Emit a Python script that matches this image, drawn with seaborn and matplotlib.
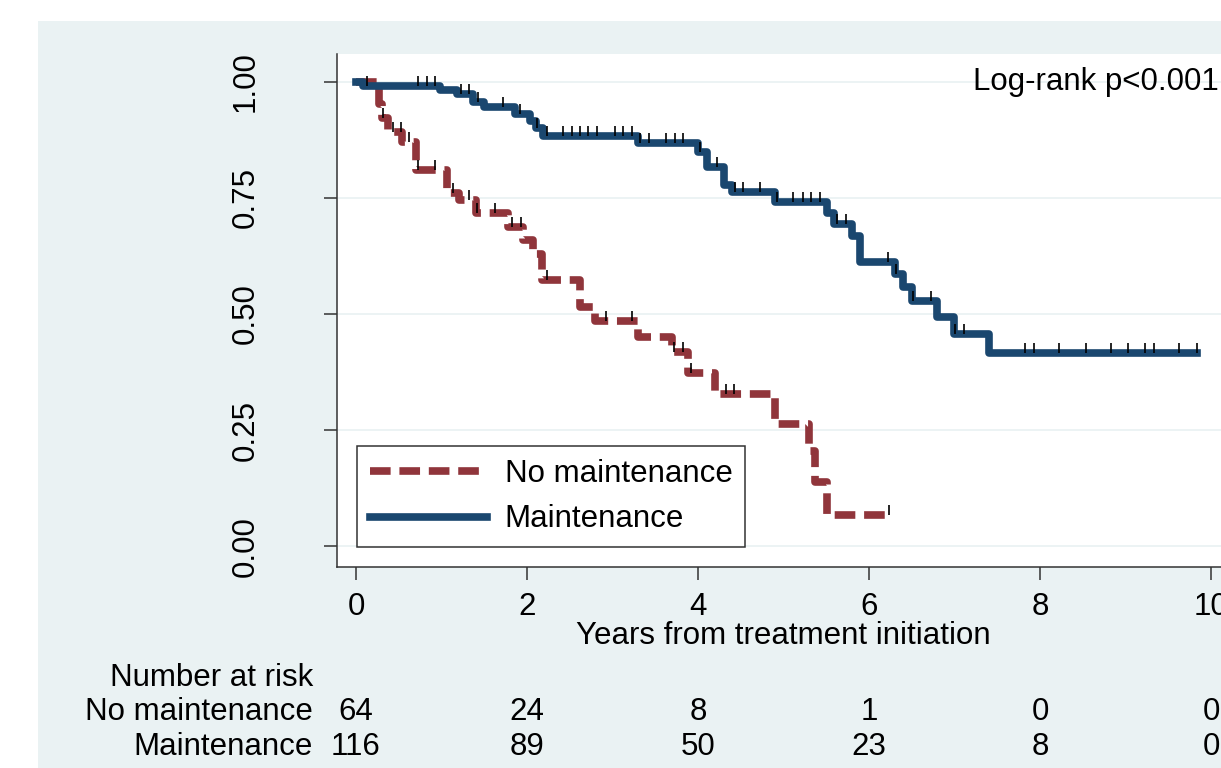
import numpy as np
import pandas as pd
import matplotlib
matplotlib.use("Agg")
import matplotlib.pyplot as plt
import matplotlib.transforms as mtransforms
from matplotlib.lines import Line2D
from matplotlib.patches import Rectangle
import seaborn as sns

# Kaplan-Meier steps (time in years, survival after the step)
no_maint_times = [0, 0.27, 0.30, 0.37, 0.54, 0.70, 1.06, 1.20, 1.40, 1.78, 1.95, 2.07, 2.18,
                  2.62, 2.80, 3.30, 3.70, 3.88, 4.20, 4.90, 5.30, 5.37, 5.51, 6.22]
no_maint_surv = [1.0, 0.953, 0.922, 0.891, 0.870, 0.810, 0.760, 0.745, 0.717, 0.688, 0.660, 0.630,
                 0.573, 0.516, 0.485, 0.450, 0.418, 0.372, 0.328, 0.263, 0.205, 0.138, 0.067, 0.067]
no_maint_censored = [0.32, 0.43, 0.53, 0.62, 0.72, 0.92, 1.13, 1.32, 1.42, 1.63, 1.83, 1.93, 2.23,
                     2.92, 3.23, 3.72, 3.83, 3.92, 4.33, 4.42, 6.23]

maint_times = [0, 0.08, 0.98, 1.18, 1.37, 1.50, 1.86, 2.03, 2.10, 2.19, 3.30, 4.00, 4.10, 4.30,
               4.40, 4.90, 5.51, 5.59, 5.80, 5.90, 6.30, 6.40, 6.50, 6.80, 6.99, 7.40, 9.84]
maint_surv = [1.0, 0.991, 0.982, 0.973, 0.957, 0.946, 0.931, 0.916, 0.900, 0.884, 0.868, 0.849,
              0.817, 0.777, 0.763, 0.741, 0.718, 0.694, 0.668, 0.612, 0.586, 0.558, 0.528, 0.493,
              0.457, 0.416, 0.416]
maint_censored = [0.13, 0.72, 0.83, 0.92, 1.23, 1.32, 1.43, 1.72, 1.92, 2.12, 2.23, 2.42, 2.53,
                  2.62, 2.71, 2.82, 3.03, 3.12, 3.23, 3.32, 3.43, 3.63, 3.73, 3.83, 4.02, 4.22,
                  4.43, 4.53, 4.73, 4.92, 5.11, 5.23, 5.32, 5.43, 5.63, 5.73, 6.22, 6.32, 6.52,
                  6.72, 7.00, 7.11, 7.82, 7.93, 8.22, 8.54, 8.83, 9.03, 9.23, 9.33, 9.63, 9.84]

groups = ["No maintenance", "Maintenance"]
risk_times = [0, 2, 4, 6, 8, 10]
risk_no_maint = [64, 24, 8, 1, 0, 0]
risk_maint = [116, 89, 50, 23, 8, 0]

colors = {"No maintenance": "#90353b", "Maintenance": "#1a476f"}
bg = "#eaf2f3"

plt.rcParams["font.family"] = ["Liberation Sans", "DejaVu Sans"]
FS = 22.5

df = pd.concat([
    pd.DataFrame({"time": no_maint_times, "surv": no_maint_surv, "group": groups[0]}),
    pd.DataFrame({"time": maint_times, "surv": maint_surv, "group": groups[1]}),
], ignore_index=True)

W, H = 1221, 768
fig = plt.figure(figsize=(W / 100, H / 100), dpi=100)
fig.patch.set_facecolor("white")
fig.patches.append(Rectangle((38 / W, 0), 1, (H - 21) / H, transform=fig.transFigure,
                             facecolor=bg, edgecolor="none", zorder=-10))

ax = fig.add_axes([337 / W, (H - 567) / H, 893 / W, 513 / H])
ax.set_facecolor("white")

sns.lineplot(data=df, x="time", y="surv", hue="group", style="group",
             hue_order=groups, style_order=groups, palette=colors,
             dashes={"No maintenance": (2.7, 1.15), "Maintenance": ""},
             estimator=None, sort=False, drawstyle="steps-post", linewidth=5.5,
             legend=False, ax=ax, solid_joinstyle="round", dash_capstyle="butt")

# censoring ticks
def surv_at(times, surv, t):
    idx = np.searchsorted(times, t, side="right") - 1
    return np.asarray(surv)[idx]

for times, surv, cens in [(no_maint_times, no_maint_surv, no_maint_censored),
                          (maint_times, maint_surv, maint_censored)]:
    s = surv_at(times, surv, cens)
    ax.vlines(cens, s, s + 0.0215, color="black", lw=1.2, zorder=5)

ax.set_xlim(-0.222, 10.222)
ax.set_ylim(-0.045, 1.06)
ax.set_xticks([0, 2, 4, 6, 8, 10])
ax.set_yticks([0, 0.25, 0.5, 0.75, 1.0])
ax.set_yticklabels(["0.00", "0.25", "0.50", "0.75", "1.00"], rotation=90, va="center")
ax.tick_params(axis="both", length=9.4, width=1.1, color="#333333", labelsize=FS,
               labelcolor="black")
ax.tick_params(axis="x", pad=8.4)
ax.tick_params(axis="y", pad=45.5)
ax.yaxis.grid(True, color=bg, lw=1.3)
ax.set_axisbelow(True)
for side in ["top", "right"]:
    ax.spines[side].set_visible(False)
for side in ["left", "bottom"]:
    ax.spines[side].set_color("#333333")
    ax.spines[side].set_linewidth(1.1)

ax.set_xlabel("Years from treatment initiation", fontsize=FS, labelpad=-0.5)
ax.set_ylabel("")

ax.text(7.22, 1.0, "Log-rank p<0.001", fontsize=FS, ha="left", va="center")

handles = [Line2D([], [], color=colors[groups[0]], lw=5.5, dashes=(2.7, 1.15),
                  dash_capstyle="butt"),
           Line2D([], [], color=colors[groups[1]], lw=5.5)]
leg = ax.legend(handles, groups, loc="lower left", bbox_to_anchor=(0.0224, 0.039),
                borderaxespad=0, fontsize=FS, handlelength=3.75, handletextpad=0.58,
                borderpad=0.4, labelspacing=0.5, frameon=True, fancybox=False)
leg.get_frame().set_edgecolor("black")
leg.get_frame().set_linewidth(1.1)

# number at risk table
blend = mtransforms.blended_transform_factory(ax.transData, fig.transFigure)
fig.text(313 / W, 1 - 678 / H, "Number at risk", fontsize=FS, ha="right", va="center")
for label, counts, ypix in [(groups[0], risk_no_maint, 712), (groups[1], risk_maint, 747)]:
    fig.text(313 / W, 1 - ypix / H, label, fontsize=FS, ha="right", va="center")
    for t, n in zip(risk_times, counts):
        ax.text(t, 1 - ypix / H, str(n), transform=blend, fontsize=FS, ha="center",
                va="center", clip_on=False)

fig.savefig("out.png", dpi=100)
